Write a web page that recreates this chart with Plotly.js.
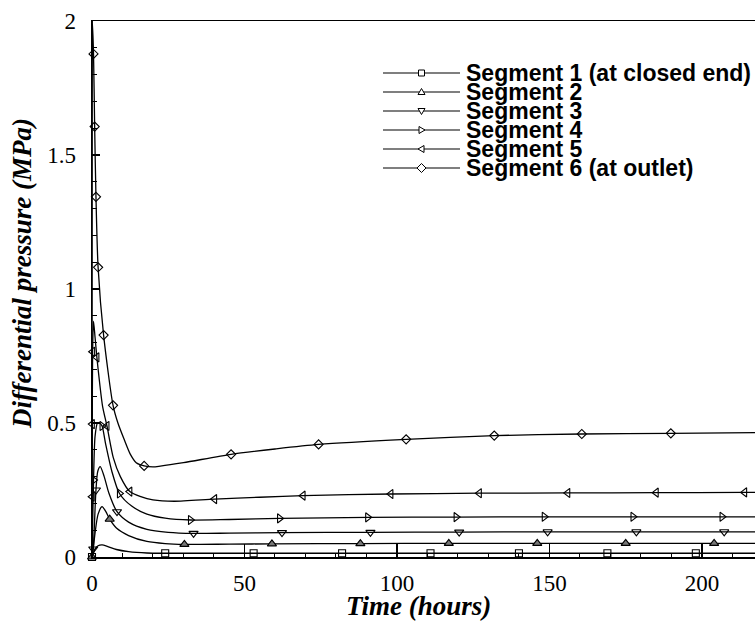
<!DOCTYPE html>
<html><head><meta charset="utf-8">
<script src="https://cdn.plot.ly/plotly-3.0.1.min.js"></script>
<style>html,body{margin:0;padding:0;background:#fff}</style>
</head><body><div id="chart" style="width:755px;height:623px"></div>
<script>
// ---- data (time in hours, pressure in MPa) ----
const segNames = ['Segment 1 (at closed end)','Segment 2','Segment 3','Segment 4','Segment 5','Segment 6 (at outlet)'];

const t1 = [0, 0.5, 1, 2, 3.3, 5, 8, 12, 18, 24, 35, 53, 82, 111, 140, 169, 198, 217.4];
const p1 = [0, 0.015, 0.03, 0.042, 0.045, 0.04, 0.028, 0.02, 0.015, 0.014, 0.014, 0.014, 0.014, 0.014, 0.014, 0.014, 0.014, 0.014];
const m1 = [0, 9, 11, 12, 13, 14, 15, 16];

const t2 = [0, 0.5, 1, 2, 3.3, 4.5, 5.8, 8, 12, 18, 24, 30.3, 45, 59, 88, 117, 146, 175, 204, 217.4];
const p2 = [0, 0.04, 0.09, 0.16, 0.188, 0.17, 0.141, 0.108, 0.08, 0.058, 0.05, 0.047, 0.048, 0.049, 0.05, 0.051, 0.051, 0.051, 0.051, 0.051];
const m2 = [0, 6, 11, 13, 14, 15, 16, 17, 18];

const t3 = [0, 0.4, 1.3, 1.9, 2.7, 4, 5.5, 8.2, 12, 18, 25, 33.3, 45, 62.3, 91.3, 120.4, 149.4, 178.5, 207.3, 217.4];
const p3 = [0, 0.03, 0.25, 0.32, 0.337, 0.30, 0.24, 0.169, 0.13, 0.103, 0.092, 0.088, 0.089, 0.091, 0.092, 0.093, 0.094, 0.094, 0.094, 0.094];
const m3 = [1, 2, 7, 11, 13, 14, 15, 16, 17, 18];

const t4 = [0, 0.5, 1, 1.8, 2.5, 3.3, 4.5, 6.5, 9, 13, 18, 24, 32.3, 45, 61.5, 90.4, 119.4, 148.3, 177.4, 206.6, 217.4];
const p4 = [0, 0.287, 0.45, 0.50, 0.50, 0.489, 0.42, 0.32, 0.237, 0.19, 0.16, 0.145, 0.138, 0.14, 0.144, 0.148, 0.149, 0.15, 0.15, 0.15, 0.15];
const m4 = [1, 5, 8, 12, 14, 15, 16, 17, 18, 19];

const t5 = [0, 0.05, 0.1, 0.2, 0.5, 1, 1.6, 2.5, 3.5, 4.9, 7, 9.3, 12.4, 16, 20, 27, 40.2, 55, 69.2, 98, 127, 156, 185, 214, 217.4];
const p5 = [0, 0.225, 0.496, 0.766, 0.88, 0.82, 0.745, 0.65, 0.56, 0.489, 0.37, 0.30, 0.244, 0.225, 0.213, 0.208, 0.216, 0.223, 0.229, 0.235, 0.238, 0.239, 0.240, 0.241, 0.241];
const m5 = [1, 2, 3, 6, 9, 12, 16, 18, 19, 20, 21, 22, 23];

const t6 = [0, 0.1, 0.5, 0.87, 1.3, 2.0, 3.8, 6.9, 8.5, 10.5, 12.5, 14.5, 17.1, 20, 22.4, 30, 45.6, 60, 74.3, 103, 131.9, 160.6, 189.8, 217.4];
const p6 = [0, 2.0, 1.877, 1.606, 1.344, 1.081, 0.828, 0.566, 0.50, 0.44, 0.385, 0.352, 0.340, 0.336, 0.339, 0.352, 0.383, 0.403, 0.420, 0.439, 0.453, 0.459, 0.4615, 0.464];
const m6 = [2, 3, 4, 5, 6, 7, 12, 16, 18, 19, 20, 21, 22];

const xTickVals = [0, 50, 100, 150, 200];
const yTickVals = [0, 0.5, 1, 1.5, 2];
const xTitle = 'Time (hours)';
const yTitle = 'Differential pressure (MPa)';

// ---- styling ----
const series = [
  {t:t1, p:p1, m:m1, sym:'square-open', size:7, fill:'white'},
  {t:t2, p:p2, m:m2, sym:'triangle-up', size:8, fill:'#777'},
  {t:t3, p:p3, m:m3, sym:'triangle-down-open', size:8, fill:'white'},
  {t:t4, p:p4, m:m4, sym:'triangle-right-open', size:8, fill:'white'},
  {t:t5, p:p5, m:m5, sym:'triangle-left-open', size:8, fill:'white'},
  {t:t6, p:p6, m:m6, sym:'diamond-open', size:7, fill:'white'}
];

const traces = [];
series.forEach((s, i) => {
  traces.push({x:s.t, y:s.p, mode:'lines', type:'scatter', name:segNames[i], showlegend:false,
    line:{color:'black', width:1.3, shape:'spline', smoothing:0.7}, hoverinfo:'skip'});
  traces.push({x:s.m.map(k => s.t[k]), y:s.m.map(k => s.p[k]), mode:'markers', type:'scatter',
    name:segNames[i], showlegend:false, cliponaxis:false,
    marker:{symbol:s.sym, size:s.size, color: s.sym.endsWith('open') ? 'black' : s.fill,
            line:{color:'black', width:1.1}}});
});

// ---- custom legend and titles (layout items) ----
const PL = 92, PT = 21, PW = 663, PH = 536;
const fx = px => (px - PL) / PW;
const fy = py => (PT + PH - py) / PH;
const legRow0 = 73, legStep = 19, legX0 = 383, legX1 = 460, legMid = 421.5, legText = 465;
const shapes = [], annotations = [];
function poly(pts) {
  return 'M' + pts.map(p => fx(p[0]) + ',' + fy(p[1])).join(' L') + ' Z';
}
segNames.forEach((nm, i) => {
  const cy = legRow0 + legStep * i, cx = legMid;
  shapes.push({type:'line', xref:'paper', yref:'paper', x0:fx(legX0), x1:fx(legX1), y0:fy(cy), y1:fy(cy),
    line:{color:'black', width:1.2}});
  let pts;
  if (i === 0) pts = [[cx-3,cy-3],[cx+3,cy-3],[cx+3,cy+3],[cx-3,cy+3]];
  else if (i === 1) pts = [[cx,cy-3.5],[cx+3.5,cy+2.5],[cx-3.5,cy+2.5]];
  else if (i === 2) pts = [[cx,cy+3.5],[cx+3.5,cy-2.5],[cx-3.5,cy-2.5]];
  else if (i === 3) pts = [[cx+3.5,cy],[cx-2.5,cy-3.5],[cx-2.5,cy+3.5]];
  else if (i === 4) pts = [[cx-3.5,cy],[cx+2.5,cy-3.5],[cx+2.5,cy+3.5]];
  else pts = [[cx,cy-4.5],[cx+4.5,cy],[cx,cy+4.5],[cx-4.5,cy]];
  shapes.push({type:'path', xref:'paper', yref:'paper', path:poly(pts), fillcolor:'white',
    line:{color:'black', width:1}});
  annotations.push({xref:'paper', yref:'paper', x:fx(legText), y:fy(cy), xanchor:'left', yanchor:'middle',
    showarrow:false, text:nm, borderpad:0,
    font:{family:'Liberation Sans, Arial, sans-serif', size:23, weight:'bold', color:'black'}});
});

const tickFont = {family:'Liberation Serif, Times New Roman, serif', size:23, color:'black'};
const titleFont = {family:'Liberation Serif, Times New Roman, serif', size:27, color:'black', weight:'bold', style:'italic'};

annotations.push({xref:'paper', yref:'paper', x:fx(418), y:fy(606), xanchor:'center', yanchor:'middle',
  showarrow:false, text:xTitle, font:titleFont, borderpad:0});
annotations.push({xref:'paper', yref:'paper', x:fx(22), y:fy(274), xanchor:'center', yanchor:'middle',
  showarrow:false, text:yTitle, textangle:-90, font:titleFont, borderpad:0});

const layout = {
  width:755, height:623,
  margin:{l:PL, r:0, t:PT, b:66},
  paper_bgcolor:'white', plot_bgcolor:'white',
  showlegend:false,
  xaxis:{range:[0, 217.4], tickvals:xTickVals, ticks:'inside', ticklen:13, tickwidth:1.2, tickcolor:'black',
    minor:{dtick:10, tick0:0, ticks:'inside', ticklen:4, tickwidth:1, tickcolor:'black'},
    showline:true, linecolor:'black', linewidth:1.5, mirror:true, showgrid:false, zeroline:false,
    tickfont:tickFont, ticklabelstandoff:5},
  yaxis:{range:[0, 2], tickvals:yTickVals, ticks:'inside', ticklen:8, tickwidth:1.2, tickcolor:'black',
    minor:{dtick:0.1, tick0:0, ticks:'inside', ticklen:5, tickwidth:1, tickcolor:'black'},
    showline:true, linecolor:'black', linewidth:1.5, mirror:false, showgrid:false, zeroline:false,
    tickfont:tickFont, ticklabelstandoff:10},
  shapes:shapes, annotations:annotations
};

Plotly.newPlot('chart', traces, layout, {staticPlot:true, displayModeBar:false});
</script></body></html>
